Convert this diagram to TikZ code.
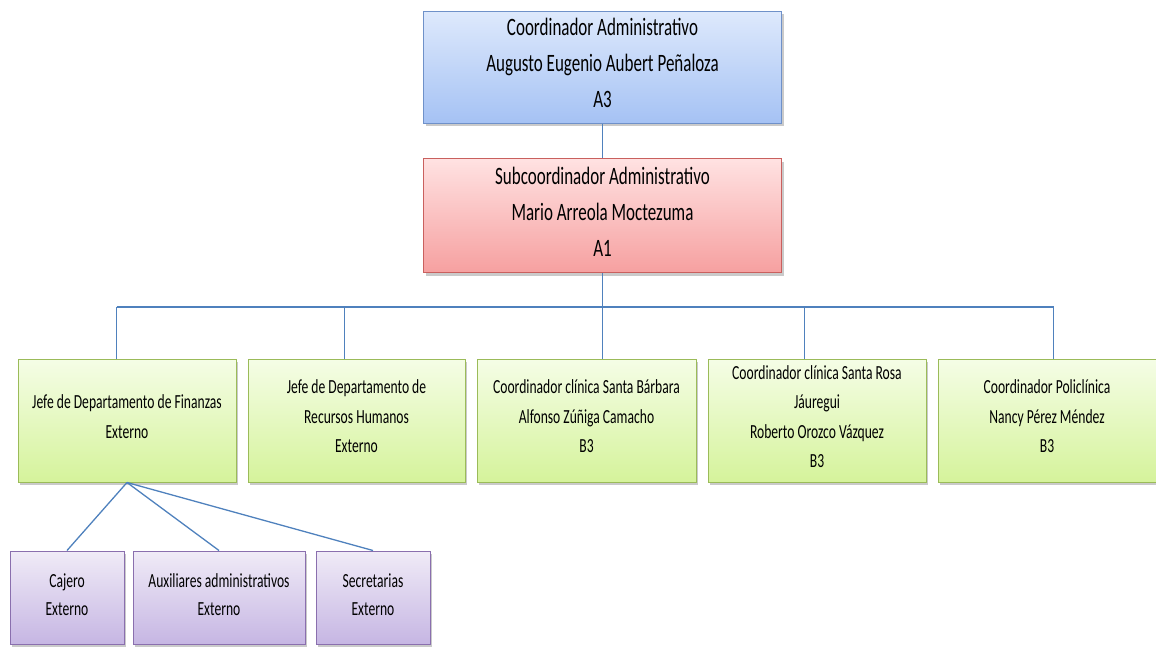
\documentclass[tikz,border=0pt]{standalone}
\usepackage{fontspec}
\setmainfont{Carlito}[FakeStretch=0.68]
\usetikzlibrary{shadows}
\definecolor{lineblue}{RGB}{79,129,189}
\definecolor{bluetop}{RGB}{222,233,252}
\definecolor{bluebot}{RGB}{165,194,244}
\definecolor{blueline}{RGB}{111,145,201}
\definecolor{redtop}{RGB}{255,226,226}
\definecolor{redbot}{RGB}{246,160,160}
\definecolor{redline}{RGB}{201,96,94}
\definecolor{greentop}{RGB}{245,253,230}
\definecolor{greenbot}{RGB}{213,243,155}
\definecolor{greenline}{RGB}{155,187,89}
\definecolor{purpletop}{RGB}{240,235,247}
\definecolor{purplebot}{RGB}{198,182,227}
\definecolor{purpleline}{RGB}{138,111,174}
\begin{document}
\begin{tikzpicture}[x=1pt,y=-1pt,
  box/.style={draw, line width=1pt, inner sep=0pt,
    drop shadow={shadow xshift=2pt, shadow yshift=-3pt, opacity=0.35, fill=black!60}},
  bigtext/.style={align=center, inner sep=0pt, yshift=4pt, font=\fontsize{25}{36}\selectfont},
  gtext/.style={align=center, inner sep=0pt, yshift=4pt, font=\fontsize{20}{29.5}\selectfont},
  ptext/.style={align=center, inner sep=0pt, yshift=3pt, font=\fontsize{20}{28.5}\selectfont},
  bluebox/.style={box, draw=blueline, top color=bluetop, bottom color=bluebot},
  redbox/.style={box, draw=redline, top color=redtop, bottom color=redbot},
  greenbox/.style={box, draw=greenline, top color=greentop, bottom color=greenbot,
    minimum height=123},
  purplebox/.style={box, draw=purpleline, top color=purpletop, bottom color=purplebot,
    minimum height=93},
  conn/.style={draw=lineblue, line width=1.3pt}]
\useasboundingbox (0,0) rectangle (1156,646);
\node[bluebox, minimum width=358, minimum height=112,
  label={[bigtext]center:{Coordinador Administrativo\\Augusto Eugenio Aubert Peñaloza\\A3}}]
  (top) at (602.5,67) {};
\node[redbox, minimum width=358, minimum height=114,
  label={[bigtext]center:{Subcoordinador Administrativo\\Mario Arreola Moctezuma\\A1}}]
  (sub) at (602.5,215.5) {};
\node[greenbox, minimum width=218,
  label={[gtext]center:{Jefe de Departamento de Finanzas\\Externo}}]
  (g1) at (127,420.5) {};
\node[greenbox, minimum width=217,
  label={[gtext]center:{Jefe de Departamento de\\Recursos Humanos\\Externo}}]
  (g2) at (356.5,420.5) {};
\node[greenbox, minimum width=219,
  label={[gtext]center:{Coordinador clínica Santa Bárbara\\Alfonso Zúñiga Camacho\\B3}}]
  (g3) at (586.5,420.5) {};
\node[greenbox, minimum width=218,
  label={[gtext]center:{Coordinador clínica Santa Rosa\\Jáuregui\\Roberto Orozco Vázquez\\B3}}]
  (g4) at (817,420.5) {};
\node[greenbox, minimum width=218,
  label={[gtext]center:{Coordinador Policlínica\\Nancy Pérez Méndez\\B3}}]
  (g5) at (1047,420.5) {};
\node[purplebox, minimum width=114,
  label={[ptext]center:{Cajero\\Externo}}] (caj) at (67,597.5) {};
\node[purplebox, minimum width=172,
  label={[ptext]center:{Auxiliares administrativos\\Externo}}] (aux) at (219,597.5) {};
\node[purplebox, minimum width=114,
  label={[ptext]center:{Secretarias\\Externo}}] (sec) at (373,597.5) {};
\coordinate (d1) at (116.5,307);
\coordinate (d2) at (344.5,307);
\coordinate (d3) at (602.5,307);
\coordinate (d4) at (804.5,307);
\coordinate (d5) at (1053.5,307);
\draw[conn] (top.south) -- (sub.north);
\draw[conn] (sub.south) -- (d3);
\draw[conn] (d1) -- (d5);
\draw[conn] (d1) -- (d1 |- g1.north);
\draw[conn] (d2) -- (d2 |- g2.north);
\draw[conn] (d3) -- (d3 |- g3.north);
\draw[conn] (d4) -- (d4 |- g4.north);
\draw[conn] (d5) -- (d5 |- g5.north);
\draw[conn] (g1.south) -- (caj.north);
\draw[conn] (g1.south) -- (aux.north);
\draw[conn] (g1.south) -- (sec.north);
\end{tikzpicture}
\end{document}
